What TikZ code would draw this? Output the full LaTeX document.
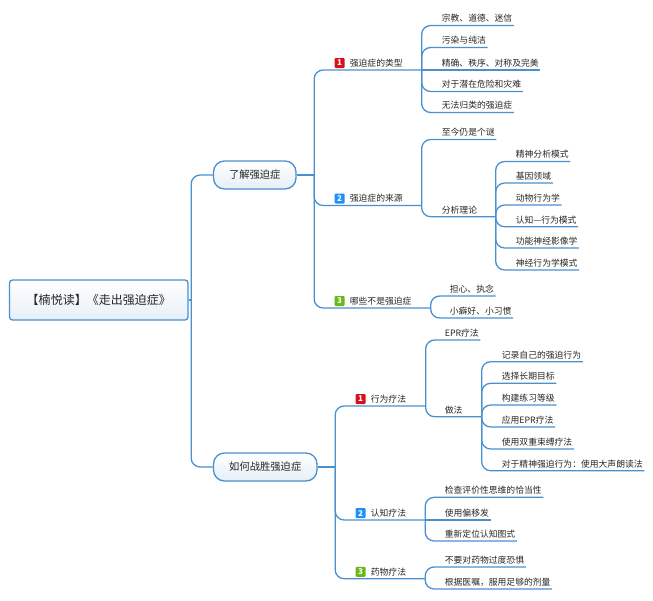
\documentclass[tikz,border=0pt]{standalone}
\usepackage{fontspec}
\setmainfont{Noto Sans CJK SC}
\usetikzlibrary{positioning}
\definecolor{linkblue}{HTML}{4A90CF}
\definecolor{inkgray}{HTML}{262626}
\definecolor{topfill}{HTML}{E6EFF8}
\definecolor{badgered}{HTML}{D8101A}
\definecolor{badgeblue}{HTML}{2090F8}
\definecolor{badgegreen}{HTML}{68B818}
\tikzset{
  on grid,
  link/.style={draw=linkblue, line width=1.3pt, rounded corners=9pt},
  rootbox/.style={draw=linkblue, line width=1.3pt, rounded corners=3pt, top color=white, bottom color=topfill,
    minimum width=178.5pt, minimum height=40pt, text=inkgray, font=\fontsize{12}{14}\selectfont},
  topicbox/.style={draw=linkblue, line width=1.3pt, rounded corners=11pt, top color=white, bottom color=topfill,
    minimum height=28pt, inner sep=0pt, text=inkgray, font=\fontsize{10.3}{12}\selectfont},
  leaf/.style={anchor=south west, inner xsep=1.5pt, inner ysep=2.5pt, text height=7.5pt, text depth=1pt,
    text=inkgray, font=\fontsize{8.8}{10}\selectfont},
  badge/.style={anchor=center, fill=#1, rounded corners=1pt, minimum size=10pt, inner sep=0pt, text=white,
    font=\fontsize{8}{8}\selectfont\bfseries},
}
\begin{document}
\begin{tikzpicture}[x=1pt,y=1pt]
  \useasboundingbox (0,0) rectangle (653,-600);
  \node[rootbox] (root) at (98.75,-300) {【楠悦读】《走出强迫症》};
  \node[topicbox, minimum width=82.5pt, above right=125pt and 156pt of root] (t1) {了解强迫症};
  \node[topicbox, minimum width=103.5pt, below right=167pt and 166.5pt of root] (t2) {如何战胜强迫症};
  \coordinate[right=2.5pt of root.east] (tr0);
  \coordinate[right=17.5pt of t1.east] (tr1);
  \coordinate[right=17.5pt of t2.east] (tr2);
  % first topic
  \coordinate[above right=105pt and 107.5pt of tr1] (j1);
  \coordinate[below right=30.5pt and 107.5pt of tr1] (j2);
  \coordinate[below right=133pt and 116.5pt of tr1] (j3);
  \node[above right=105pt and 34pt of tr1, leaf] (b1) {强迫症的类型};
  \node[below right=30.5pt and 34pt of tr1, leaf] (b2) {强迫症的来源};
  \node[below right=133pt and 34pt of tr1, leaf] (b3) {哪些不是强迫症};
  \node[left=8.5pt of b1.west, badge=badgered] (n1) {1};
  \node[left=8.5pt of b2.west, badge=badgeblue] (n2) {2};
  \node[left=8.5pt of b3.west, badge=badgegreen] (n3) {3};
  \node[above right=44.5pt and 18.5pt of j1, leaf] (a1) {宗教、道德、迷信};
  \node[below=22pt of a1.south west, leaf] (a2) {污染与纯洁};
  \node[below=22.5pt of a2.south west, leaf] (a3) {精确、秩序、对称及完美};
  \node[below=21.5pt of a3.south west, leaf] (a4) {对于潜在危险和灾难};
  \node[below=21pt of a4.south west, leaf] (a5) {无法归类的强迫症};
  \node[above right=66pt and 18.5pt of j2, leaf] (c1) {至今仍是个谜};
  \node[below=77.2pt of c1.south west, leaf] (c2) {分析理论};
  \coordinate[below right=11.2pt and 74pt of j2] (j7);
  \node[above right=55.2pt and 18.5pt of j7, leaf] (d1) {精神分析模式};
  \node[below=21.5pt of d1.south west, leaf] (d2) {基因领域};
  \node[below=22pt of d2.south west, leaf] (d3) {动物行为学};
  \node[below=21.7pt of d3.south west, leaf] (d4) {认知—行为模式};
  \node[below=21.3pt of d4.south west, leaf] (d5) {功能神经影像学};
  \node[below=22pt of d5.south west, leaf] (d6) {神经行为学模式};
  \node[above right=12pt and 17.5pt of j3, leaf] (e1) {担心、执念};
  \node[below=22pt of e1.south west, leaf] (e2) {小癖好、小习惯};
  % second topic
  \coordinate[above right=61pt and 90.5pt of tr2] (j4);
  \coordinate[below right=53pt and 90pt of tr2] (j5);
  \coordinate[below right=111.7pt and 90pt of tr2] (j6);
  \node[above right=61pt and 34pt of tr2, leaf] (b4) {行为疗法};
  \node[below right=53pt and 34pt of tr2, leaf] (b5) {认知疗法};
  \node[below right=111.7pt and 34pt of tr2, leaf] (b6) {药物疗法};
  \node[left=8.5pt of b4.west, badge=badgered] (n4) {1};
  \node[left=8.5pt of b5.west, badge=badgeblue] (n5) {2};
  \node[left=8.5pt of b6.west, badge=badgegreen] (n6) {3};
  \node[above right=66pt and 17.5pt of j4, leaf] (f1) {EPR疗法};
  \node[below=76.7pt of f1.south west, leaf] (f2) {做法};
  \coordinate[below right=10.7pt and 56pt of j4] (j8);
  \node[above right=55pt and 18.5pt of j8, leaf] (g1) {记录自己的强迫行为};
  \node[below=21.6pt of g1.south west, leaf] (g2) {选择长期目标};
  \node[below=21.7pt of g2.south west, leaf] (g3) {构建练习等级};
  \node[below=22pt of g3.south west, leaf] (g4) {应用EPR疗法};
  \node[below=22pt of g4.south west, leaf] (g5) {使用双重束缚疗法};
  \node[below=21.7pt of g5.south west, leaf] (g6) {对于精神强迫行为：使用大声朗读法};
  \node[above right=22.7pt and 18pt of j5, leaf] (h1) {检查评价性思维的恰当性};
  \node[below=22.7pt of h1.south west, leaf] (h2) {使用偏移发};
  \node[below=21pt of h2.south west, leaf] (h3) {重新定位认知图式};
  \node[above right=11.7pt and 18pt of j6, leaf] (k1) {不要对药物过度恐惧};
  \node[below=22pt of k1.south west, leaf] (k2) {根据医嘱，服用足够的剂量};
  % connectors
  \draw[link] (root.east) -- (tr0);
  \draw[link] (t1.west) -| (tr0);
  \draw[link] (t2.west) -| (tr0);
  \draw[link] (t1.east) -- (tr1);
  \draw[link] (t2.east) -- (tr2);
  \draw[link] (tr1) |- (j1);
  \draw[link] (tr1) |- (j2);
  \draw[link] (tr1) |- (j3);
  \draw[link] (tr2) |- (j4);
  \draw[link] (tr2) |- (j5);
  \draw[link] (tr2) |- (j6);
  \draw[link] (j1) |- (a1.south east);
  \draw[link] (j1) |- (a2.south east);
  \draw[link] (j1) -- (a3.south east);
  \draw[link] (j1) |- (a4.south east);
  \draw[link] (j1) |- (a5.south east);
  \draw[link] (j2) |- (c1.south east);
  \draw[link] (j2) |- (j7);
  \draw[link] (j7) |- (d1.south east);
  \draw[link] (j7) |- (d2.south east);
  \draw[link] (j7) |- (d3.south east);
  \draw[link] (j7) |- (d4.south east);
  \draw[link] (j7) |- (d5.south east);
  \draw[link] (j7) |- (d6.south east);
  \draw[link] (j3) |- (e1.south east);
  \draw[link] (j3) |- (e2.south east);
  \draw[link] (j4) |- (f1.south east);
  \draw[link] (j4) |- (j8);
  \draw[link] (j8) |- (g1.south east);
  \draw[link] (j8) |- (g2.south east);
  \draw[link] (j8) |- (g3.south east);
  \draw[link] (j8) |- (g4.south east);
  \draw[link] (j8) |- (g5.south east);
  \draw[link] (j8) |- (g6.south east);
  \draw[link] (j5) |- (h1.south east);
  \draw[link] (j5) -- (h2.south east);
  \draw[link] (j5) |- (h3.south east);
  \draw[link] (j6) |- (k1.south east);
  \draw[link] (j6) |- (k2.south east);
\end{tikzpicture}
\end{document}
